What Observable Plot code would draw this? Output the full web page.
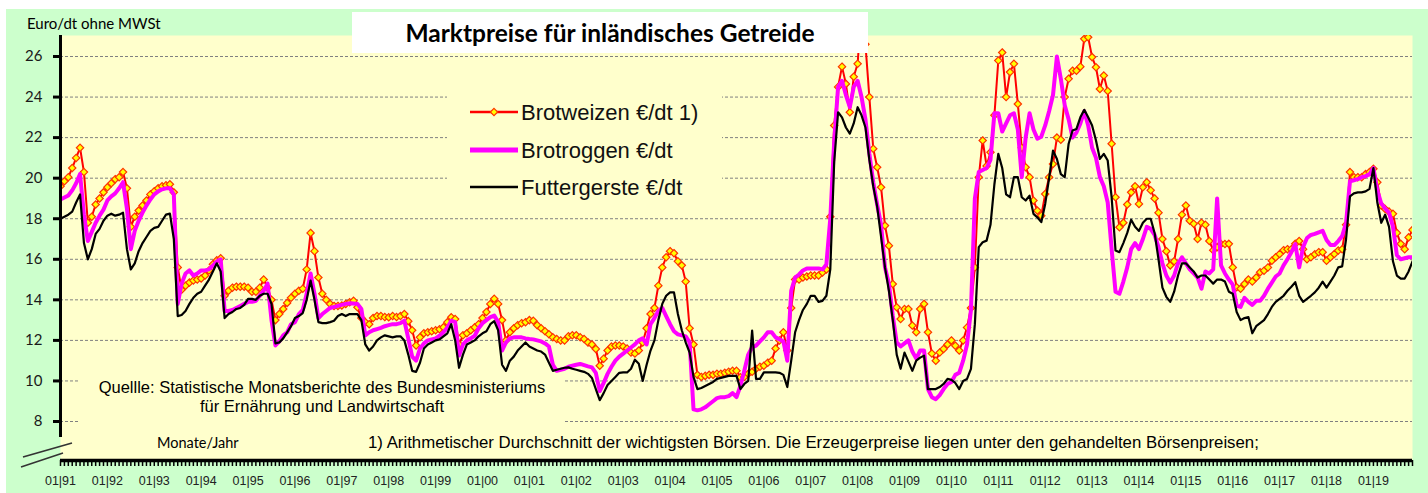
<!DOCTYPE html>
<html><head><meta charset="utf-8">
<script src="https://cdn.jsdelivr.net/npm/d3@7"></script>
<script src="https://cdn.jsdelivr.net/npm/@observablehq/plot@0.6"></script>
<style>
html,body{margin:0;padding:0;background:#fff;}
#wrap{position:relative;width:1428px;height:493px;overflow:hidden;}
#bg{position:absolute;left:6px;top:9px;right:0;bottom:0;background:#ccffcc;}
#chart{position:absolute;left:0;top:0;}
.ov{position:absolute;white-space:nowrap;color:#000;}
.arial{font-family:"Liberation Sans",Arial,sans-serif;}
.cal{font-family:Lato,"Open Sans",sans-serif;}
</style></head><body>
<div id="wrap">
  <div id="bg"></div>
  <div id="chart"></div>
  <div class="ov cal" style="left:27px;top:14px;font-size:15px;line-height:18px;">Euro/dt ohne MWSt</div>
  <div class="ov cal" style="left:352px;top:12px;width:516px;height:41px;background:#fff;font-weight:700;font-size:24.5px;line-height:41px;text-align:center;">Marktpreise für inländisches Getreide</div>
  <div class="ov" style="left:447px;top:75px;width:275px;height:130px;background:#ffffcc;"></div>
  <svg class="ov" id="legend" style="left:447px;top:75px;" width="290" height="130"></svg>
  <div class="ov arial" style="left:80px;top:375px;width:484px;height:54px;background:#ffffcc;font-size:16.5px;line-height:19px;text-align:center;padding-top:3px;box-sizing:border-box;">Quellle: Statistische Monatsberichte des Bundesministeriums<br>für Ernährung und Landwirtschaft</div>
  <div class="ov cal" style="left:157px;top:434px;font-size:14.5px;line-height:18px;">Monate/Jahr</div>
  <div class="ov arial" style="left:368px;top:434px;font-size:16.8px;line-height:18px;">1) Arithmetischer Durchschnitt der wichtigsten Börsen. Die Erzeugerpreise liegen unter den gehandelten Börsenpreisen;</div>
  <svg class="ov" style="left:0;top:0;" width="100" height="493">
    <line x1="23" y1="457" x2="72" y2="443" stroke="#333" stroke-width="1.6"/>
    <line x1="21" y1="467" x2="63" y2="453" stroke="#333" stroke-width="1.6"/>
  </svg>
</div>
<script>
// ---- data (monthly, from 01/1991) ----
const startYear = 1991;
const seriesNames = ["Brotweizen €/dt 1)", "Brotroggen €/dt", "Futtergerste €/dt"];
const seriesColors = ["#ff0000", "#ff00ff", "#000000"];
const weizen = [
19.6,19.85,20.05,20.5,21.0,21.5,20.3,17.8,18.1,18.7,19.0,19.3,
19.55,19.75,19.95,20.05,20.3,19.5,17.6,18.1,18.4,18.65,18.9,19.2,
19.35,19.5,19.6,19.65,19.7,19.3,15.6,14.5,14.7,14.85,14.95,15.0,
15.05,15.2,15.45,15.75,15.95,16.05,14.2,14.45,14.6,14.65,14.65,14.65,
14.6,14.4,14.4,14.6,15.0,14.6,14.0,13.0,13.3,13.55,13.85,14.1,
14.3,14.45,14.55,15.5,17.3,16.4,15.1,14.3,14.0,13.8,13.7,13.7,
13.72,13.8,13.88,13.95,13.63,13.1,12.9,12.8,13.1,13.2,13.2,13.15,
13.14,13.2,13.15,13.2,13.3,12.95,12.5,11.75,12.15,12.35,12.4,12.45,
12.5,12.55,12.65,12.9,13.14,13.05,11.8,12.25,12.35,12.5,12.65,12.8,
13.1,13.4,13.8,14.05,13.8,13.0,12.0,12.4,12.6,12.75,12.85,12.9,
13.0,12.97,12.75,12.6,12.45,12.3,12.15,12.07,12.0,12.0,12.2,12.25,
12.25,12.15,12.07,11.9,11.8,11.58,10.75,11.1,11.5,11.7,11.75,11.75,
11.7,11.6,11.4,11.35,11.5,11.9,12.6,13.3,13.6,14.7,15.6,16.1,
16.4,16.3,15.9,15.7,14.9,12.6,11.8,10.3,10.2,10.25,10.3,10.3,
10.35,10.35,10.4,10.45,10.5,10.5,10.18,10.2,10.35,10.45,10.6,10.7,
10.75,10.9,11.0,11.6,12.0,12.4,11.5,13.6,15.0,15.0,15.1,15.15,
15.2,15.2,15.2,15.35,15.5,18.1,22.6,24.5,25.5,24.65,23.25,25.0,
25.64,28.5,26.6,24.0,21.45,20.54,19.55,17.66,16.67,14.78,13.63,13.05,
13.55,13.55,12.73,12.4,13.55,13.8,12.4,11.35,11.0,11.4,11.58,11.8,
12.0,11.74,11.5,12.0,12.64,13.6,15.6,20.05,21.86,20.6,21.28,23.1,
25.8,26.2,24.0,25.23,25.64,23.66,21.5,20.54,20.05,18.9,18.4,18.15,
19.22,20.05,20.7,22.0,21.9,24.0,24.9,25.3,25.3,25.5,26.87,26.95,
25.97,25.47,24.4,25.06,24.3,21.7,19.06,17.58,17.8,18.7,19.3,19.6,
18.73,19.55,19.8,19.4,19.0,18.3,17.0,16.4,15.7,15.9,17.0,18.2,
18.65,17.9,17.75,17.0,17.8,17.7,16.9,16.45,16.6,16.75,16.75,16.76,
15.6,14.62,14.55,14.78,15.0,14.9,15.1,15.36,15.44,15.6,15.93,16.1,
16.26,16.45,16.5,16.5,16.76,16.9,16.5,16.0,16.1,16.25,16.35,16.35,
15.93,16.1,16.26,16.43,16.5,17.7,20.3,20.05,20.05,20.05,20.2,20.3,
20.46,19.8,18.65,18.48,18.35,18.24,17.3,16.76,16.5,17.08,17.45];
const roggen = [
18.95,19.05,19.15,19.4,19.75,20.2,18.2,16.9,17.35,17.8,18.15,18.45,
18.9,19.1,19.25,19.5,19.8,18.5,16.5,17.4,17.9,18.3,18.65,18.95,
19.2,19.35,19.45,19.5,19.5,19.2,13.8,14.8,15.3,15.45,15.2,15.3,
15.45,15.45,15.5,15.7,15.9,16.0,13.45,13.45,13.5,13.6,13.7,13.8,
13.9,13.9,13.95,14.2,14.45,14.8,13.0,11.75,11.95,12.25,12.4,12.8,
12.9,13.3,13.5,14.3,15.3,14.3,13.1,13.3,13.45,13.6,13.65,13.7,
13.75,13.8,13.83,13.82,13.8,13.55,12.25,12.4,12.5,12.56,12.62,12.7,
12.75,12.8,12.8,12.85,12.97,12.1,11.2,11.0,11.6,11.85,12.0,12.05,
12.1,12.23,12.4,12.64,12.97,12.9,11.25,11.8,12.0,12.1,12.23,12.6,
12.85,13.0,13.15,13.22,12.9,11.5,11.9,12.1,12.15,12.15,12.15,12.1,
12.07,12.05,12.0,11.95,11.85,11.7,10.8,10.5,10.55,10.6,10.7,10.75,
10.8,10.84,10.78,10.72,10.67,10.4,9.5,9.9,10.35,10.7,11.0,11.2,
11.35,11.5,11.65,11.8,12.0,12.1,11.8,12.8,13.1,13.45,13.6,13.2,
12.8,12.45,12.3,12.25,12.2,11.9,8.6,8.55,8.6,8.7,8.85,9.0,
9.15,9.2,9.2,9.25,9.4,9.2,9.75,10.5,11.3,11.66,11.74,11.95,
12.15,12.4,12.4,12.15,12.05,11.95,11.0,14.45,15.1,15.25,15.45,15.55,
15.55,15.55,15.55,15.5,15.75,18.0,21.8,24.5,24.8,24.1,23.5,24.5,
24.8,24.0,22.9,21.2,19.8,18.7,17.7,15.6,14.8,13.2,11.9,11.7,
11.85,12.0,11.45,11.1,11.5,11.5,9.6,9.2,9.1,9.3,9.6,9.85,
9.95,10.3,10.4,11.0,11.8,13.5,19.0,20.3,20.4,20.5,20.9,23.2,
23.2,22.3,22.7,23.1,23.2,22.4,20.05,22.0,23.2,22.4,21.95,22.05,
22.6,23.3,24.1,26.0,24.9,23.6,22.9,22.0,22.25,22.7,23.3,22.6,
21.5,21.0,20.05,19.6,18.8,16.5,14.4,14.3,14.9,15.6,16.5,16.8,
16.5,17.0,17.6,17.5,17.2,16.6,15.8,15.2,14.85,15.2,15.8,16.1,
15.8,15.5,15.3,15.1,14.55,15.4,15.3,15.5,19.0,15.7,15.3,15.0,
14.75,13.7,13.65,14.1,13.9,13.75,13.95,13.95,14.2,14.55,14.85,15.15,
15.3,15.7,16.0,16.35,16.75,15.6,16.6,17.05,17.2,17.25,17.33,17.4,
16.95,16.7,16.7,16.9,17.15,17.8,19.85,19.9,19.95,20.05,20.1,20.2,
20.5,19.4,18.75,18.5,18.3,17.6,16.2,16.0,16.05,16.1,16.1];
const gerste = [
18.0,18.1,18.2,18.35,18.8,19.2,16.8,16.0,16.5,17.25,17.5,17.9,
18.15,18.25,18.15,18.2,18.3,16.5,15.5,15.8,16.4,16.8,17.1,17.4,
17.55,17.6,17.9,18.2,18.25,17.0,13.2,13.25,13.45,13.8,14.1,14.3,
14.4,14.7,15.0,15.4,15.8,15.4,13.1,13.3,13.4,13.55,13.6,13.75,
14.05,14.05,14.0,14.2,14.3,14.3,13.8,11.85,11.9,12.1,12.4,12.7,
13.1,13.2,13.35,14.0,14.95,14.0,12.9,12.85,12.85,12.9,12.97,13.2,
13.3,13.2,13.3,13.3,13.3,13.0,11.8,11.5,11.7,12.0,12.15,12.25,
12.2,12.15,12.2,12.2,12.0,11.3,10.5,10.45,10.9,11.6,11.8,11.9,
12.0,12.05,12.2,12.35,12.8,12.0,10.65,11.3,11.8,11.9,12.0,12.2,
12.35,12.45,12.8,12.95,12.5,10.8,10.5,11.0,11.2,11.5,11.7,11.9,
11.7,11.6,11.5,11.45,11.3,10.9,10.5,10.55,10.6,10.65,10.67,10.6,
10.55,10.5,10.45,10.35,10.15,9.6,9.05,9.4,9.8,10.0,10.2,10.4,
10.42,10.42,10.6,11.05,10.85,10.0,10.8,11.5,12.0,13.0,13.8,14.2,
14.37,14.37,13.3,12.5,11.9,11.4,10.2,9.6,9.65,9.75,9.85,9.95,
10.1,10.15,10.2,10.25,10.25,10.25,9.6,9.85,10.0,12.48,10.1,10.1,
10.42,10.42,10.42,10.42,10.4,10.3,9.7,11.0,12.4,13.0,13.5,13.8,
14.2,14.2,13.9,13.95,14.2,15.5,20.8,23.25,23.0,22.5,22.2,22.7,
23.5,23.1,22.5,20.9,19.6,18.6,17.1,15.6,14.45,13.0,11.3,10.6,
11.4,10.95,10.5,11.0,11.15,11.25,9.6,9.6,9.6,9.7,9.85,10.1,
10.05,9.9,9.6,10.0,10.1,10.6,12.8,16.6,16.84,16.92,17.7,19.7,
21.2,20.5,19.2,19.06,20.05,20.05,19.06,18.9,19.14,18.24,18.07,17.83,
18.73,20.0,21.36,20.95,20.2,20.05,21.7,22.35,22.43,23.0,23.37,23.0,
22.6,21.86,20.95,21.2,20.87,19.06,16.43,16.35,16.8,17.3,17.95,17.6,
17.4,17.8,18.0,18.0,17.3,16.0,14.6,14.15,13.9,14.4,15.2,15.8,
15.8,15.6,15.4,15.1,15.2,15.2,15.0,14.8,15.0,15.0,14.9,14.4,
14.3,13.4,13.0,13.1,13.15,12.35,12.7,12.85,13.0,13.3,13.65,13.9,
14.05,14.2,14.45,14.65,14.87,14.2,13.9,14.05,14.2,14.37,14.6,14.9,
14.6,14.9,15.2,15.6,15.65,17.0,19.1,19.25,19.3,19.3,19.35,19.47,
20.5,18.8,17.8,18.2,17.6,15.9,15.2,15.05,15.05,15.4,15.9];
const yTicks = [8, 10, 12, 14, 16, 18, 20, 22, 24, 26];
const xTickLabels = ["01|91","01|92","01|93","01|94","01|95","01|96","01|97","01|98","01|99","01|00",
  "01|01","01|02","01|03","01|04","01|05","01|06","01|07","01|08","01|09","01|10",
  "01|11","01|12","01|13","01|14","01|15","01|16","01|17","01|18","01|19"];

// ---- build ----
const n = weizen.length;
const monthIdx = d3.range(n);
const janIdx = xTickLabels.map((_, k) => k * 12);
const rows = monthIdx.map(i => ({i, w: weizen[i], r: roggen[i], g: gerste[i]}));
const yDomain = [6.077, 27.036];

const chart = Plot.plot({
  width: 1428, height: 493,
  marginLeft: 60, marginRight: 16, marginTop: 35, marginBottom: 33,
  style: {background: "transparent", overflow: "visible"},
  x: {domain: [0, n - 1], axis: null},
  y: {domain: yDomain, axis: null},
  marks: [
    Plot.frame({fill: "#ffffcc", stroke: null}),
    Plot.gridY(yTicks, {y: d => d, stroke: "#808080", strokeOpacity: 1, strokeWidth: 1, strokeDasharray: "3,2"}),
    Plot.axisX({ticks: monthIdx, tickSize: 6, strokeWidth: 1.5, stroke: "#000", tickFormat: () => "", label: null}),
    Plot.axisX({ticks: janIdx, tickSize: 0, tickPadding: 16, tickFormat: i => xTickLabels[i / 12], fontSize: 12.5, fontFamily: "Liberation Sans, Arial, sans-serif", fill: "#222", label: null}),
    Plot.ruleY([yDomain[0]], {stroke: "#000", strokeWidth: 3.5}),
    Plot.line(rows, {x: "i", y: "w", stroke: seriesColors[0], strokeWidth: 2, clip: true}),
    Plot.dot(rows, {x: "i", y: "w", symbol: "diamond2", r: 3.3, fill: "#ffff00", stroke: "#ff3300", strokeWidth: 1.2, clip: true}),
    Plot.line(rows, {x: "i", y: "r", stroke: seriesColors[1], strokeWidth: 4, clip: true}),
    Plot.line(rows, {x: "i", y: "g", stroke: seriesColors[2], strokeWidth: 2.2, clip: true}),
    Plot.axisY({ticks: yTicks, tickSize: 7, tickPadding: 11, strokeWidth: 3, stroke: "#000", fontSize: 15, fontFamily: "Lato, sans-serif", fill: "#1a1a1a", label: null}),
    Plot.ruleX([0], {y1: 7.21, y2: yDomain[1], stroke: "#000", strokeWidth: 3})
  ]
});
document.getElementById("chart").append(chart);

// ---- legend ----
const lg = d3.select("#legend");
const rowsY = [37, 75, 112];
const widths = [2.5, 5, 2.5];
seriesNames.forEach((name, k) => {
  lg.append("line").attr("x1", 23).attr("x2", 71).attr("y1", rowsY[k]).attr("y2", rowsY[k])
    .attr("stroke", seriesColors[k]).attr("stroke-width", widths[k]);
  if (k === 0) {
    lg.append("path").attr("d", d3.symbol(d3.symbolDiamond2, 34)())
      .attr("transform", `translate(47,${rowsY[k]})`).attr("fill", "#ffff00").attr("stroke", "#ff3300").attr("stroke-width", 1.2);
  }
  lg.append("text").attr("x", 74).attr("y", rowsY[k]).attr("dy", "0.36em")
    .attr("font-family", "Liberation Sans, Arial, sans-serif").attr("font-size", 22).attr("fill", "#111").text(name);
});
</script>
</body></html>
